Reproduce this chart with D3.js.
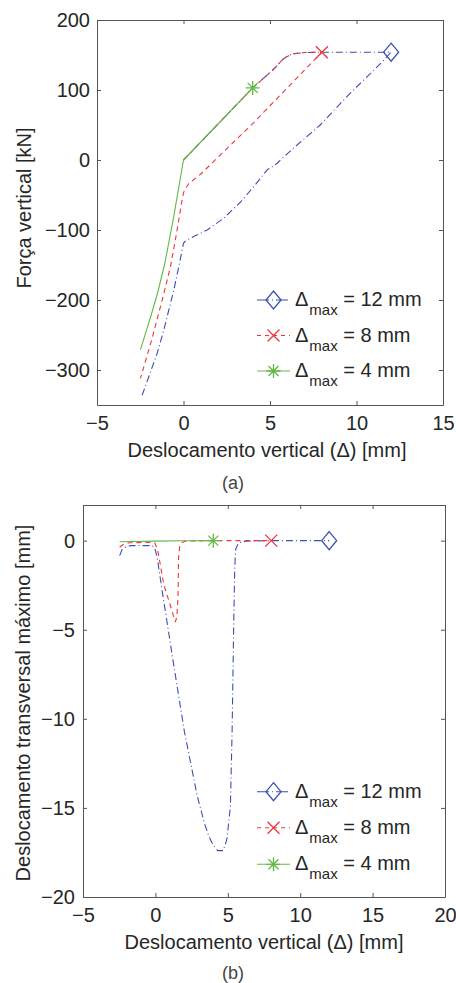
<!DOCTYPE html>
<html>
<head>
<meta charset="utf-8">
<script src="https://cdn.jsdelivr.net/npm/d3@7"></script>
<style>
  body { margin: 0; background: #fff; }
  svg { display: block; }
  text { font-family: "Liberation Sans", Arial, sans-serif; fill: #262626; }
</style>
</head>
<body>
<svg width="456" height="983"></svg>
<script>
// ---- data: chart (a) Força vertical x deslocamento vertical ----
var dispA12 = [0, 4, 5, 5.3, 5.6, 5.8, 6, 6.2, 6.4, 7, 8, 12, 11.4, 9.5, 7.9, 6.5, 5.6, 5.4, 5.1, 4.84, 4.06, 3.3, 2.33, 1.37, 0.7, 0.3, 0.1, 0, -0.27, -0.56, -1.14, -1.52, -2.39];
var forceA12 = [0, 103, 125, 132, 140, 145, 148, 150.5, 152, 153.5, 154, 154, 138, 92, 50, 20, 0, -5, -10, -14, -38, -60, -83, -100, -108, -113, -116, -119, -152, -186, -243, -276, -336];
var dispA8 = [0, 4, 5, 5.3, 5.6, 5.8, 6, 6.2, 6.4, 7, 8, 4, 1, 0.3, 0.1, 0, -0.08, -0.42, -0.75, -1.23, -1.85, -2.49];
var forceA8 = [0, 103, 125, 132, 140, 145, 148, 150.5, 152, 153.5, 154, 52, -20, -34, -41, -47, -57, -107, -152, -200, -258, -312];
var dispA4 = [-2.49, -2.2, -1.85, -1.5, -1.1, -0.6, 0, 4];
var forceA4 = [-271, -248, -220, -190, -150, -86, 0, 103];

// ---- data: chart (b) deslocamento transversal máximo ----
var dispB12 = [-2.47, -2.3, -2.07, -1.73, -0.23, -0.05, 0.12, 0.5, 0.81, 1.27, 2.0, 2.88, 3.4, 3.68, 4.0, 4.3, 4.67, 4.85, 4.95, 5.18, 5.3, 5.41, 5.48, 5.55, 5.75, 6.2, 8, 12];
var transB12 = [-0.84, -0.5, -0.37, -0.28, -0.28, -0.4, -0.93, -3.0, -4.6, -7.0, -10.7, -14.3, -15.9, -16.57, -17.1, -17.4, -17.4, -17.0, -16.7, -14.9, -10.58, -4.58, -1.5, -0.45, -0.12, -0.03, 0, 0];
var dispB8 = [-2.47, -2.2, -1.8, -0.5, -0.05, 0.15, 0.35, 0.57, 0.9, 1.15, 1.3, 1.38, 1.48, 1.56, 1.6, 1.68, 1.85, 2.07, 4, 8];
var transB8 = [-0.37, -0.2, -0.12, -0.1, -0.12, -0.5, -1.4, -2.43, -3.3, -3.93, -4.4, -4.55, -4.3, -3.2, -1.0, -0.3, -0.1, -0.03, 0, 0];
var dispB4 = [-2.47, 0, 2, 4];
var transB4 = [-0.06, -0.03, -0.01, 0];

var seriesNames = ["12 mm", "8 mm", "4 mm"];
var ticksAx = [-5, 0, 5, 10, 15];
var ticksAy = [-300, -200, -100, 0, 100, 200];
var ticksBx = [-5, 0, 5, 10, 15, 20];
var ticksBy = [-20, -15, -10, -5, 0];

var colors = ["#3d4fb3", "#f2333a", "#64b845"];
var dashes = ["7,3,1,3", "5,4", null];
var markers = ["diamond", "x", "star"];

var svg = d3.select("svg");

function zip(xs, ys) { return xs.map((x, i) => [x, ys[i]]); }

function drawMarker(g, type, cx, cy, color) {
  if (type == "diamond") {
    g.append("path")
      .attr("d", "M" + cx + "," + (cy - 9) + "L" + (cx + 7.5) + "," + cy + "L" + cx + "," + (cy + 9) + "L" + (cx - 7.5) + "," + cy + "Z")
      .attr("fill", "none").attr("stroke", color).attr("stroke-width", 1.3);
  } else if (type == "x") {
    var s = 6;
    g.append("path")
      .attr("d", "M" + (cx - s) + "," + (cy - s) + "L" + (cx + s) + "," + (cy + s) + "M" + (cx - s) + "," + (cy + s) + "L" + (cx + s) + "," + (cy - s))
      .attr("stroke", color).attr("stroke-width", 1.3);
  } else {
    var s = 7, d = 5;
    g.append("path")
      .attr("d", "M" + (cx - s) + "," + cy + "L" + (cx + s) + "," + cy + "M" + cx + "," + (cy - s) + "L" + cx + "," + (cy + s) +
        "M" + (cx - d) + "," + (cy - d) + "L" + (cx + d) + "," + (cy + d) + "M" + (cx - d) + "," + (cy + d) + "L" + (cx + d) + "," + (cy - d))
      .attr("stroke", color).attr("stroke-width", 1.3);
  }
}

function panel(opt) {
  var g = svg.append("g").attr("transform", "translate(" + opt.left + "," + opt.top + ")");
  var x = d3.scaleLinear().domain(opt.xDomain).range([0, opt.width]);
  var y = d3.scaleLinear().domain(opt.yDomain).range([opt.height, 0]);

  var ax = [
    g.append("g").attr("transform", "translate(0," + opt.height + ")")
      .call(d3.axisBottom(x).tickValues(opt.xTicks).tickSize(-4).tickSizeOuter(0).tickPadding(11)),
    g.append("g").call(d3.axisLeft(y).tickValues(opt.yTicks).tickSize(-4).tickSizeOuter(0).tickPadding(opt.yPad)),
    g.append("g").call(d3.axisTop(x).tickValues(opt.xTicks).tickSize(-4).tickSizeOuter(0).tickFormat("")),
    g.append("g").attr("transform", "translate(" + opt.width + ",0)")
      .call(d3.axisRight(y).tickValues(opt.yTicks).tickSize(-4).tickSizeOuter(0).tickFormat(""))
  ];
  ax.forEach(a => {
    a.select(".domain").attr("stroke", "#555");
    a.selectAll(".tick line").attr("stroke", "#555");
    a.selectAll(".tick text").attr("font-size", 20).attr("font-family", "Liberation Sans, Arial, sans-serif").attr("fill", "#262626");
  });

  var line = d3.line().x(d => x(d[0])).y(d => y(d[1]));
  opt.series.forEach((s, i) => {
    g.append("path")
      .datum(s)
      .attr("d", line)
      .attr("fill", "none")
      .attr("stroke", colors[i])
      .attr("stroke-width", 1.1)
      .attr("stroke-linejoin", "round")
      .attr("stroke-dasharray", dashes[i]);
  });
  opt.ends.forEach((p, i) => drawMarker(g, markers[i], x(p[0]), y(p[1]), colors[i]));

  // axis titles
  g.append("text")
    .attr("x", opt.width / 2 + opt.xLabelShift).attr("y", opt.height + 52)
    .attr("text-anchor", "middle").attr("font-size", 20)
    .text("Deslocamento vertical (Δ) [mm]");
  g.append("text")
    .attr("transform", "translate(" + (opt.yLabelX - opt.left) + "," + (opt.yLabelY - opt.top) + ") rotate(-90)")
    .attr("text-anchor", "middle").attr("font-size", 20)
    .text(opt.yLabel);

  // legend (no box)
  seriesNames.forEach((name, i) => {
    var ly = opt.legendY[i];
    g.append("line")
      .attr("x1", 257 - opt.left).attr("x2", 290 - opt.left)
      .attr("y1", ly - opt.top).attr("y2", ly - opt.top)
      .attr("stroke", colors[i]).attr("stroke-width", 1.1)
      .attr("stroke-dasharray", i == 1 ? "4,4" : (i == 0 ? "12,3,1,3" : null));
    drawMarker(g, markers[i], 273.5 - opt.left, ly - opt.top, colors[i]);
    var t = g.append("text").attr("x", 295 - opt.left).attr("y", ly - opt.top + 6).attr("font-size", 20);
    t.append("tspan").text("Δ");
    t.append("tspan").attr("font-size", 15).attr("dy", 9).attr("dx", 1).text("max");
    t.append("tspan").attr("dy", -9).text(" = " + name);
  });

  // caption
  svg.append("text")
    .attr("x", opt.captionX).attr("y", opt.captionY)
    .attr("text-anchor", "middle")
    .attr("font-family", "Open Sans, sans-serif").attr("font-weight", 300)
    .attr("font-size", 18).style("fill", "#444")
    .text(opt.caption);
}

panel({
  left: 97, top: 20, width: 346, height: 385,
  xDomain: [-5, 15], yDomain: [-350, 200],
  xTicks: ticksAx, yTicks: ticksAy, yPad: 7,
  series: [zip(dispA12, forceA12), zip(dispA8, forceA8), zip(dispA4, forceA4)],
  ends: [[12, 154], [8, 154], [4, 103]],
  yLabel: "Força vertical [kN]", yLabelX: 31, yLabelY: 208,
  xLabelShift: -3,
  legendY: [300, 335.5, 371],
  caption: "(a)", captionX: 233, captionY: 489
});

panel({
  left: 83, top: 505, width: 362, height: 392,
  xDomain: [-5, 20], yDomain: [-20, 2],
  xTicks: ticksBx, yTicks: ticksBy, yPad: 8,
  series: [zip(dispB12, transB12), zip(dispB8, transB8), zip(dispB4, transB4)],
  ends: [[12, 0], [8, 0], [4, 0]],
  yLabel: "Deslocamento transversal máximo [mm]", yLabelX: 30, yLabelY: 703,
  xLabelShift: 0,
  legendY: [791.7, 827.7, 864.3],
  caption: "(b)", captionX: 233, captionY: 979
});
</script>
</body>
</html>
